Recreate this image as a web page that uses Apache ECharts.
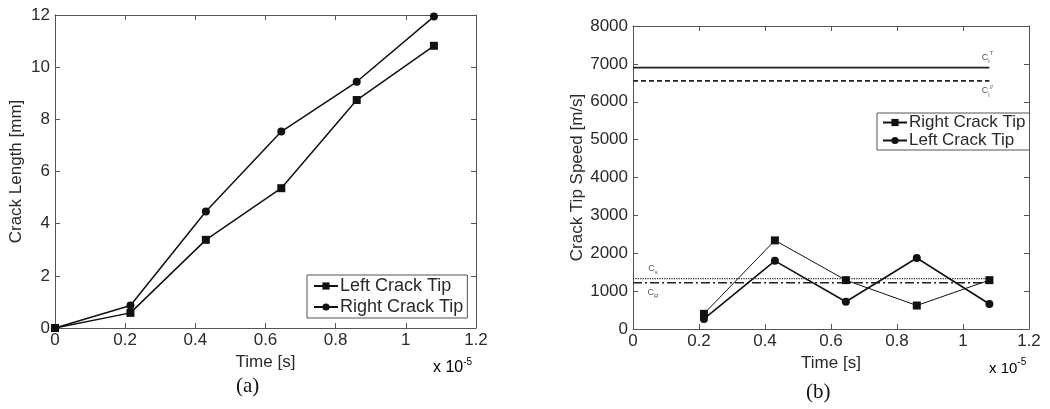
<!DOCTYPE html>
<html>
<head>
<meta charset="utf-8">
<script src="https://cdn.jsdelivr.net/npm/echarts@6/dist/echarts.min.js"></script>
<style>
  html, body { margin: 0; padding: 0; background: #fff; }
  #main { width: 1050px; height: 409px; }
</style>
</head>
<body>
<div id="main"></div>
<script>
  // (a) crack length vs time, time in units of 1e-5 s
  var timeA = [0, 0.215, 0.43, 0.645, 0.86, 1.08];
  var leftLenA = [0, 0.58, 3.38, 5.36, 8.74, 10.82];
  var rightLenA = [0, 0.86, 4.47, 7.53, 9.44, 11.94];

  // (b) crack tip speed vs time
  var timeB = [0.215, 0.43, 0.645, 0.86, 1.08];
  var rightSpeedB = [400, 2340, 1290, 620, 1290];
  var leftSpeedB = [265, 1800, 720, 1875, 660];

  // wave speed reference lines
  var refSpeeds = [6900, 6550, 1330, 1220];
  var refSpan = [0, 1.08];

  var FONT = '"Liberation Sans", Arial, sans-serif';
  var TXT = '#2a2a2a';
  var AX = '#555';

  function zip(xs, ys) {
    return xs.map(function (x, i) { return [x, ys[i]]; });
  }

  function plain(v) {
    return String(Math.round(v * 1000) / 1000);
  }

  // box axes, matlab style: ticks inside on all 4 sides
  function xAxis(grid, pos, max, showLabel) {
    return {
      type: 'value', gridIndex: grid, position: pos,
      min: 0, max: max, interval: 0.2,
      name: showLabel ? 'Time [s]' : '', nameLocation: 'middle', nameGap: 21,
      nameTextStyle: { fontFamily: FONT, fontSize: 17, color: TXT },
      axisLine: { show: true, onZero: false, lineStyle: { color: AX, width: 1 } },
      axisTick: { show: true, inside: true, length: 5, lineStyle: { color: AX } },
      axisLabel: { show: showLabel, fontFamily: FONT, fontSize: 17, color: TXT, margin: 4, formatter: plain },
      splitLine: { show: false }
    };
  }
  function yAxis(grid, pos, max, step, name, gap) {
    return {
      type: 'value', gridIndex: grid, position: pos,
      min: 0, max: max, interval: step,
      name: name, nameLocation: 'middle', nameGap: gap,
      nameTextStyle: { fontFamily: FONT, fontSize: 17, color: TXT },
      axisLine: { show: true, onZero: false, lineStyle: { color: AX, width: 1 } },
      axisTick: { show: true, inside: true, length: 5, lineStyle: { color: AX } },
      axisLabel: { show: !!name, fontFamily: FONT, fontSize: 17, color: TXT, margin: 5, formatter: plain },
      splitLine: { show: false }
    };
  }

  function dataLine(name, xi, yi, data, symbol, size, width) {
    return {
      name: name, type: 'line', xAxisIndex: xi, yAxisIndex: yi,
      data: data, symbol: symbol, symbolSize: size,
      lineStyle: { color: '#111', width: width },
      itemStyle: { color: '#111' },
      animation: false
    };
  }

  var subRich = {
    c: { fontFamily: FONT, fontSize: 9, color: '#555' },
    sb: { fontFamily: FONT, fontSize: 6, color: '#555', verticalAlign: 'bottom', lineHeight: 14 },
    sp: { fontFamily: FONT, fontSize: 6, color: '#555', verticalAlign: 'top', lineHeight: 14 }
  };

  function refLine(idx, dash, width, labelAt, labelPos, labelText, offset) {
    var pts = zip(refSpan, [refSpeeds[idx], refSpeeds[idx]]);
    var lp = pts[labelAt];
    pts[labelAt] = {
      value: lp,
      label: {
        show: true, position: labelPos, distance: 3, offset: offset,
        formatter: labelText, rich: subRich
      }
    };
    return {
      type: 'line', xAxisIndex: 2, yAxisIndex: 2, data: pts,
      symbol: 'circle', symbolSize: 0.01, showSymbol: true,
      itemStyle: { color: 'rgba(0,0,0,0)' },
      silent: true, animation: false,
      lineStyle: { color: '#222', width: width, type: dash },
      label: { show: false }
    };
  }

  var chart = echarts.init(document.getElementById('main'));
  chart.setOption({
    backgroundColor: '#fff',
    animation: false,
    grid: [
      { left: 55, top: 15, width: 421, height: 313 },
      { left: 633, top: 26, width: 396, height: 303 }
    ],
    xAxis: [
      xAxis(0, 'bottom', 1.2, true),
      xAxis(0, 'top', 1.2, false),
      xAxis(1, 'bottom', 1.2, true),
      xAxis(1, 'top', 1.2, false)
    ],
    yAxis: [
      yAxis(0, 'left', 12, 2, 'Crack Length [mm]', 30),
      yAxis(0, 'right', 12, 2, '', 0),
      yAxis(1, 'left', 8000, 1000, 'Crack Tip Speed [m/s]', 45),
      yAxis(1, 'right', 8000, 1000, '', 0)
    ],
    legend: [
      {
        data: ['Left Crack Tip (a)', 'Right Crack Tip (a)'],
        orient: 'vertical', left: 307, top: 275,
        padding: [2, 4, 2, 6], itemGap: 3, itemWidth: 24, itemHeight: 9,
        borderColor: '#555', borderWidth: 1, borderRadius: 0,
        backgroundColor: '#fff',
        textStyle: { fontFamily: FONT, fontSize: 18, color: TXT, padding: [0, 0, 0, -3] },
        formatter: function (n) { return n.replace(' (a)', ''); },
        selectedMode: false
      },
      {
        data: ['Right Crack Tip (b)', 'Left Crack Tip (b)'],
        orient: 'vertical', left: 877, top: 113,
        padding: [1, 4, 1, 5], itemGap: 1, itemWidth: 24, itemHeight: 9,
        borderColor: '#555', borderWidth: 1, borderRadius: 0,
        backgroundColor: '#fff',
        textStyle: { fontFamily: FONT, fontSize: 17, color: TXT, padding: [0, 0, 0, -3] },
        formatter: function (n) { return n.replace(' (b)', ''); },
        selectedMode: false
      }
    ],
    series: [
      dataLine('Left Crack Tip (a)', 0, 0, zip(timeA, leftLenA), 'rect', 8, 1.5),
      dataLine('Right Crack Tip (a)', 0, 0, zip(timeA, rightLenA), 'circle', 8, 1.5),
      refLine(0, 'solid', 1.6, 1, 'top', '{c|C}{sb|l}{sp|T}', [-2, 0]),
      refLine(1, [5, 3], 1.6, 1, 'bottom', '{c|C}{sb|l}{sp|//}', [-2, 0]),
      refLine(2, 'dotted', 1.2, 0, 'top', '{c|C}{sb|s}', [20, 0]),
      refLine(3, [9, 3, 2, 3], 1.4, 0, 'bottom', '{c|C}{sb|R}', [20, 0]),
      dataLine('Right Crack Tip (b)', 2, 2, zip(timeB, rightSpeedB), 'rect', 8, 1),
      dataLine('Left Crack Tip (b)', 2, 2, zip(timeB, leftSpeedB), 'circle', 8, 1.6)
    ],
    graphic: [
      {
        type: 'text', left: 433, top: 357,
        style: {
          text: '{a|x 10}{b|-5}',
          rich: {
            a: { fontFamily: FONT, fontSize: 16, color: TXT, verticalAlign: 'bottom', lineHeight: 19 },
            b: { fontFamily: FONT, fontSize: 10, color: TXT, verticalAlign: 'top', lineHeight: 19 }
          }
        }
      },
      {
        type: 'text', left: 989, top: 357,
        style: {
          text: '{a|x 10}{b|-5}',
          rich: {
            a: { fontFamily: FONT, fontSize: 15, color: TXT, verticalAlign: 'bottom', lineHeight: 19 },
            b: { fontFamily: FONT, fontSize: 10, color: TXT, verticalAlign: 'top', lineHeight: 19 }
          }
        }
      },
      {
        type: 'text', left: 236, top: 376,
        style: { text: '(a)', font: '21px "Liberation Serif", "Times New Roman", serif', fill: '#111' }
      },
      {
        type: 'text', left: 806, top: 382,
        style: { text: '(b)', font: '21px "Liberation Serif", "Times New Roman", serif', fill: '#111' }
      }
    ]
  });
</script>
</body>
</html>
